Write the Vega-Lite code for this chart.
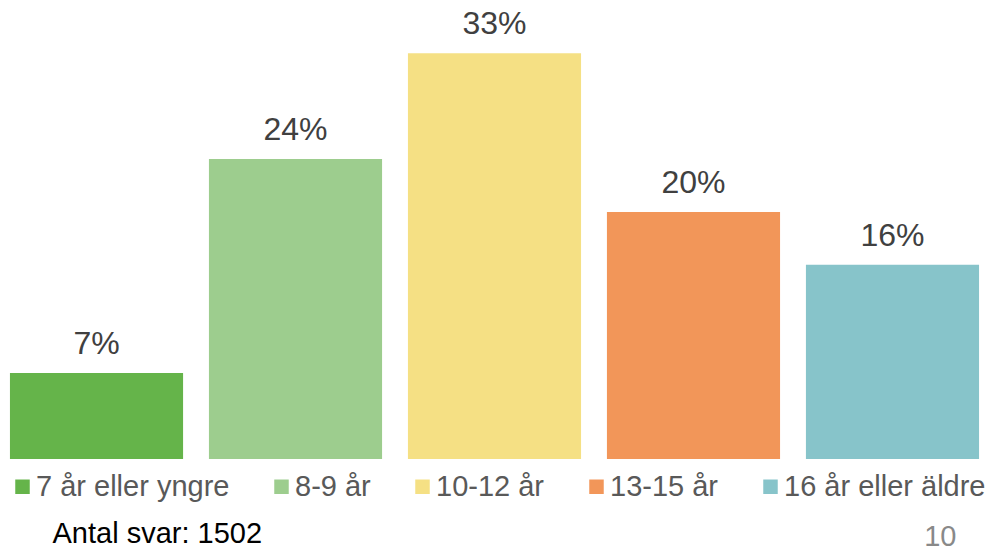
{
  "$schema": "https://vega.github.io/schema/vega-lite/v6.json",
  "width": 989,
  "height": 459,
  "padding": {"left": 0, "top": 0, "right": 0, "bottom": 88},
  "autosize": {"type": "none"},
  "background": "white",
  "config": {"view": {"stroke": null}, "font": "Liberation Sans"},
  "data": {
    "values": [
      {"grupp": "7 år eller yngre", "andel": 0.070},
      {"grupp": "8-9 år", "andel": 0.244},
      {"grupp": "10-12 år", "andel": 0.330},
      {"grupp": "13-15 år", "andel": 0.201},
      {"grupp": "16 år eller äldre", "andel": 0.158}
    ]
  },
  "encoding": {
    "x": {
      "field": "grupp",
      "type": "nominal",
      "sort": null,
      "scale": {"paddingInner": 0.13, "paddingOuter": 0.05},
      "axis": {
        "labels": false, "ticks": false, "domain": false, "grid": false,
        "title": "Antal svar: 1502",
        "titleFont": "Liberation Sans", "titleFontSize": 29, "titleFontWeight": "normal",
        "titleColor": "#000000", "titleAlign": "left", "titleAnchor": "start",
        "titleBaseline": "alphabetic", "titleX": 52, "titleY": 83
      }
    },
    "y": {
      "field": "andel",
      "type": "quantitative",
      "scale": {"domain": [0, 0.3734], "nice": false, "zero": true},
      "axis": {
        "orient": "right",
        "labels": false, "ticks": false, "domain": false, "grid": false,
        "title": "10",
        "titleAngle": 0,
        "titleFont": "Liberation Sans", "titleFontSize": 29, "titleFontWeight": "normal",
        "titleColor": "#898989", "titleAlign": "right", "titleBaseline": "alphabetic",
        "titleX": -33, "titleY": 545
      }
    }
  },
  "layer": [
    {
      "mark": {"type": "bar"},
      "encoding": {
        "color": {
          "field": "grupp",
          "type": "nominal",
          "sort": null,
          "scale": {
            "domain": ["7 år eller yngre", "8-9 år", "10-12 år", "13-15 år", "16 år eller äldre"],
            "range": ["#65B44A", "#9DCD8E", "#F5E084", "#F29659", "#87C4CA"]
          },
          "legend": {
            "orient": "none",
            "legendX": 8,
            "legendY": 472,
            "direction": "horizontal",
            "columns": 5,
            "title": null,
            "padding": 0,
            "symbolType": "square",
            "symbolSize": 210,
            "symbolStrokeWidth": 0,
            "symbolOpacity": 1,
            "labelFont": "Liberation Sans",
            "labelFontSize": 29,
            "labelColor": "#595959",
            "labelOffset": -1,
            "columnPadding": 37,
            "labelLimit": 400
          }
        }
      }
    },
    {
      "mark": {"type": "text", "baseline": "alphabetic", "dy": -19, "font": "Liberation Sans", "fontSize": 32, "color": "#404040"},
      "encoding": {
        "text": {"field": "andel", "type": "quantitative", "format": ".0%"}
      }
    }
  ]
}
